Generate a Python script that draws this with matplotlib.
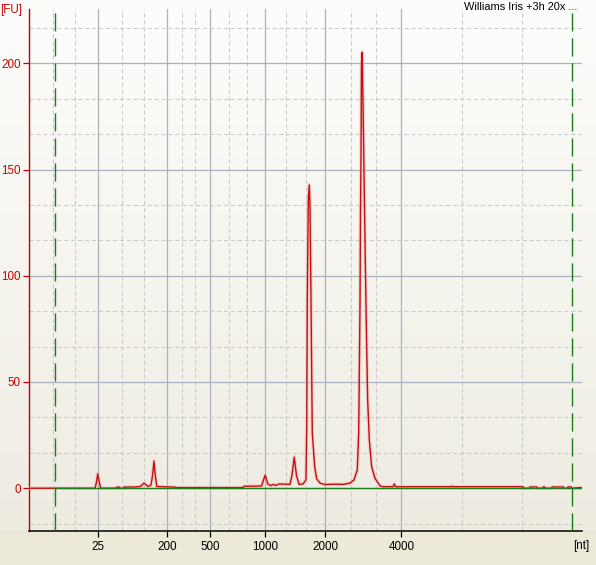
import numpy as np
import matplotlib.pyplot as plt
from matplotlib.colors import LinearSegmentedColormap

plt.rcParams['font.family'] = ['Liberation Sans', 'DejaVu Sans']
plt.rcParams['lines.scale_dashes'] = False

# Electropherogram trace: migration time (s) vs fluorescence (FU)
time_s = [19.00, 24.95, 25.08, 25.19, 25.30, 25.46, 26.85, 26.91, 27.15, 27.20,
          27.50, 27.57, 28.60, 29.05, 29.38, 29.74, 30.01, 30.15, 30.28, 30.40,
          30.53, 32.18, 32.25, 38.36, 38.40, 40.00, 40.20, 40.33, 40.59, 40.86,
          41.05, 41.32, 41.59, 42.58, 42.76, 42.97, 43.17, 43.40, 43.76, 44.03,
          44.10, 44.15, 44.24, 44.33, 44.39, 44.48, 44.60, 44.82, 45.00, 45.30,
          45.75, 46.50, 47.40, 48.01, 48.37, 48.67, 48.80, 48.92, 48.96, 49.01,
          49.05, 49.12, 49.22, 49.34, 49.40, 49.52, 49.61, 49.76, 49.97, 50.27,
          50.73, 51.02, 51.90, 52.02, 52.14, 57.20, 57.27, 57.35, 63.66, 63.70,
          64.28, 64.30, 64.90, 64.95, 65.45, 65.50, 65.60, 65.65, 66.26, 66.30,
          67.31, 67.35, 67.70, 67.73, 68.00, 68.10, 68.97]
fu = [0.0, 0.0, 3.0, 6.7, 3.5, 0.0, 0.0, 0.5, 0.5, 0.0,
      0.0, 0.5, 0.6, 0.8, 2.4, 0.8, 1.5, 6.0, 12.8, 6.0,
      0.8, 0.5, 0.3, 0.3, 0.9, 1.0, 4.0, 6.1, 1.9, 1.2,
      1.8, 1.3, 2.0, 1.8, 6.0, 14.6, 6.0, 1.8, 2.0, 3.9,
      30.0, 89.0, 136.0, 142.7, 133.0, 91.0, 26.0, 10.0, 4.4, 2.4,
      1.7, 1.9, 1.8, 2.4, 3.9, 8.6, 26.0, 88.0, 130.0, 158.0,
      200.0, 205.2, 170.0, 127.0, 106.0, 67.0, 41.5, 22.7, 10.2, 4.7,
      1.1, 0.7, 0.7, 2.0, 0.7, 0.7, 1.0, 0.7, 0.7, 0.0,
      0.0, 0.6, 0.6, 0.0, 0.0, 0.6, 0.6, 0.0, 0.0, 0.6,
      0.6, 0.0, 0.0, 0.6, 0.6, 0.0, 0.3]

# ladder calibration (size label -> migration time)
ladder_nt = ['25', '200', '500', '1000', '2000', '4000']
ladder_time = [25.24, 31.48, 35.37, 40.36, 45.78, 52.65]
minor_time = [21.14, 23.16, 27.36, 29.40, 32.79, 33.99, 37.04, 38.67,
              42.20, 43.99, 48.08, 50.36, 58.12, 63.54]
marker_time = [21.35, 68.07]
fu_ticks = [0, 50, 100, 150, 200]
sample_name = 'Williams Iris +3h 20x ...'

W, H = 596, 565
fig = plt.figure(figsize=(W / 100, H / 100), dpi=100, facecolor='#ECE9D8')

# light vertical gradient behind the plot
bg = fig.add_axes([0, 1 - 531 / H, 1, 531 / H], zorder=0)
cmap = LinearSegmentedColormap.from_list('bg', ['#EEECE1', '#FDFDFC'])
bg.imshow(np.linspace(0, 1, 256).reshape(-1, 1), cmap=cmap, aspect='auto',
          origin='lower', extent=[0, 1, 0, 1])
bg.axis('off')

ax = fig.add_axes([29.3 / W, 1 - 530.7 / H, 552.7 / W, 521.4 / H], zorder=1)
ax.set_facecolor('none')
ax.set_xlim(19, 69)
ax.set_ylim(-20, 225.4)

ax.set_xticks(ladder_time)
ax.set_xticklabels(ladder_nt)
ax.set_xticks(minor_time, minor=True)
ax.set_yticks(fu_ticks)
ax.set_yticks([k * 50 / 3 for k in range(-1, 14) if k % 3 != 0], minor=True)

ax.set_axisbelow(True)
ax.grid(which='major', color='#A9B2BE', lw=0.9, ls='-')
ax.grid(which='minor', color='#CACACA', lw=0.75, ls=(0, (3, 2)))

ax.tick_params(axis='y', which='major', colors='#CC0000', length=4.3,
               width=0.9, pad=2, labelsize=8.4)
ax.tick_params(axis='x', which='major', colors='black', length=4.3,
               width=0.9, pad=3.2, labelsize=8.4)
ax.tick_params(which='minor', length=0)

for s in ('top', 'right'):
    ax.spines[s].set_visible(False)
ax.spines['left'].set_color('#C00000')
ax.spines['left'].set_linewidth(1.0)
ax.spines['bottom'].set_color('black')
ax.spines['bottom'].set_linewidth(1.1)

# trace with soft halo
ax.plot(time_s, fu, color='#F4B4B4', lw=2.6, alpha=0.55, zorder=3)
ax.plot(time_s, fu, color='#C21010', lw=1.0, zorder=4)

# baseline and markers
ax.hlines(0, marker_time[0] - 0.15, 69, color='#1C7F1C', lw=1.0, zorder=5)
for t in marker_time:
    ax.axvline(t, color='#1C7A1C', lw=1.0, ls=(0, (13, 5)), zorder=5)

fig.text(0.5 / W, 1 - 10 / H, '[FU]', color='#CC0000', fontsize=8.4,
         ha='left', va='center')
fig.text(581 / W, 1 - 546 / H, '[nt]', color='black', fontsize=8.4,
         ha='center', va='center')
fig.text(577 / W, 1 - 7 / H, sample_name, color='black', fontsize=7.9,
         ha='right', va='center')

fig.savefig('out.png', dpi=100, facecolor=fig.get_facecolor())
